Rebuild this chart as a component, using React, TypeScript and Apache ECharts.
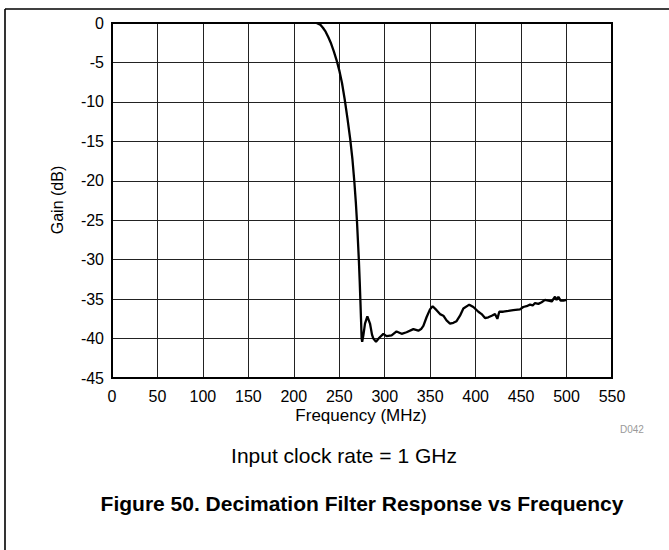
import React, { useEffect, useRef } from "react";
import * as echarts from "echarts";

const freqMHz: number[] = [
  225, 229, 232, 235, 238, 241, 244, 247, 250, 253, 256, 259, 262, 264.5, 266.5, 268.2, 269.5,
  270.6, 271.6, 272.5, 273.2, 273.9, 274.6, 275.2, 276.5, 278.3, 280.9, 283.8, 286, 287.5, 290.4,
  294, 298.5, 302, 307.6, 313, 318.6, 324, 331.5, 337, 340, 342.5, 346, 349.8, 352.7, 357, 360.8,
  364.5, 368, 371.8, 375.5, 379, 382.8, 386.5, 393, 397.5, 403, 406.6, 410.3, 414, 417.7, 421.3,
  423.9, 426, 430.4, 436, 441.4, 448.8, 452.4, 456, 459.8, 462.8, 465.3, 469, 472.6, 476.3, 480,
  483.7, 487.3, 489, 491, 493.5, 496.5, 500.2,
];
const gainDb: number[] = [
  0, -0.2, -0.6, -1.1, -1.8, -2.6, -3.6, -4.7, -6.0, -7.6, -9.7, -12.1, -14.7, -17.3, -20.0, -22.7,
  -25.2, -27.8, -30.2, -32.8, -35.1, -37.5, -40.0, -40.4, -39.6, -38.1, -37.2, -38.1, -39.5, -40.0,
  -40.4, -39.9, -39.4, -39.7, -39.6, -39.1, -39.4, -39.2, -38.8, -39.0, -38.8, -38.4, -37.3, -36.3,
  -35.9, -36.4, -36.9, -37.1, -37.7, -38.1, -38.0, -37.8, -37.1, -36.2, -35.7, -36.0, -36.6, -36.9,
  -37.4, -37.3, -37.1, -36.9, -37.5, -36.6, -36.6, -36.5, -36.4, -36.3, -36.0, -35.9, -35.7, -35.8,
  -35.5, -35.6, -35.4, -35.1, -35.2, -35.3, -34.7, -35.1, -34.7, -35.2, -35.2, -35.1,
];

const xTitle = "Frequency (MHz)";
const yTitle = "Gain (dB)";
const noteText = "Input clock rate = 1 GHz";
const captionText = "Figure 50. Decimation Filter Response vs Frequency";
const codeText = "D042";

const FONT = "'Liberation Sans', Arial, sans-serif";

export default function App() {
  const ref = useRef<HTMLDivElement>(null);
  useEffect(() => {
    if (!ref.current) return;
    const chart = echarts.init(ref.current, null, { renderer: "svg" });
    const data = freqMHz.map((f, i) => [f, gainDb[i]]);
    chart.setOption({
      animation: false,
      backgroundColor: "#fff",
      grid: {
        left: 112,
        top: 23,
        width: 500,
        height: 355,
        show: true,
        borderColor: "#000",
        borderWidth: 2,
        backgroundColor: "transparent",
        z: 5,
      },
      xAxis: {
        type: "value",
        min: 0,
        max: 550,
        interval: 50,
        axisLine: { show: false },
        axisTick: { show: false },
        splitLine: { show: true, lineStyle: { color: "#222", width: 1 } },
        axisLabel: { color: "#000", fontSize: 16, fontFamily: FONT, margin: 10 },
      },
      yAxis: {
        type: "value",
        min: -45,
        max: 0,
        interval: 5,
        axisLine: { show: false },
        axisTick: { show: false },
        splitLine: { show: true, lineStyle: { color: "#222", width: 1 } },
        axisLabel: { color: "#000", fontSize: 16, fontFamily: FONT, margin: 8 },
      },
      series: [
        {
          type: "line",
          data,
          showSymbol: false,
          smooth: false,
          lineStyle: { color: "#000", width: 2.3 },
          z: 10,
        },
      ],
      graphic: [
        { type: "line", shape: { x1: 5, y1: 9, x2: 669, y2: 9 }, style: { stroke: "#000", lineWidth: 1.6 } },
        { type: "line", shape: { x1: 5, y1: 9, x2: 5, y2: 550 }, style: { stroke: "#000", lineWidth: 1.6 } },
        {
          type: "text",
          x: 57,
          y: 200,
          rotation: Math.PI / 2,
          style: { text: yTitle, fontSize: 16, fontFamily: FONT, fill: "#000", textAlign: "center", textVerticalAlign: "middle" },
        },
        {
          type: "text",
          x: 361,
          y: 415,
          style: { text: xTitle, fontSize: 17, fontFamily: FONT, fill: "#000", textAlign: "center", textVerticalAlign: "middle" },
        },
        {
          type: "text",
          x: 620,
          y: 429,
          style: { text: codeText, fontSize: 10, fontFamily: FONT, fill: "#999", textAlign: "left", textVerticalAlign: "middle" },
        },
        {
          type: "text",
          x: 344,
          y: 455,
          style: { text: noteText, fontSize: 21, fontFamily: FONT, fill: "#000", textAlign: "center", textVerticalAlign: "middle" },
        },
        {
          type: "text",
          x: 362,
          y: 503,
          style: { text: captionText, fontSize: 21, fontWeight: "bold", fontFamily: FONT, fill: "#000", textAlign: "center", textVerticalAlign: "middle" },
        },
      ],
    });
    return () => chart.dispose();
  }, []);
  return (
    <div
      ref={ref}
      style={{ position: "fixed", left: 0, top: 0, width: 669, height: 550 }}
    />
  );
}
